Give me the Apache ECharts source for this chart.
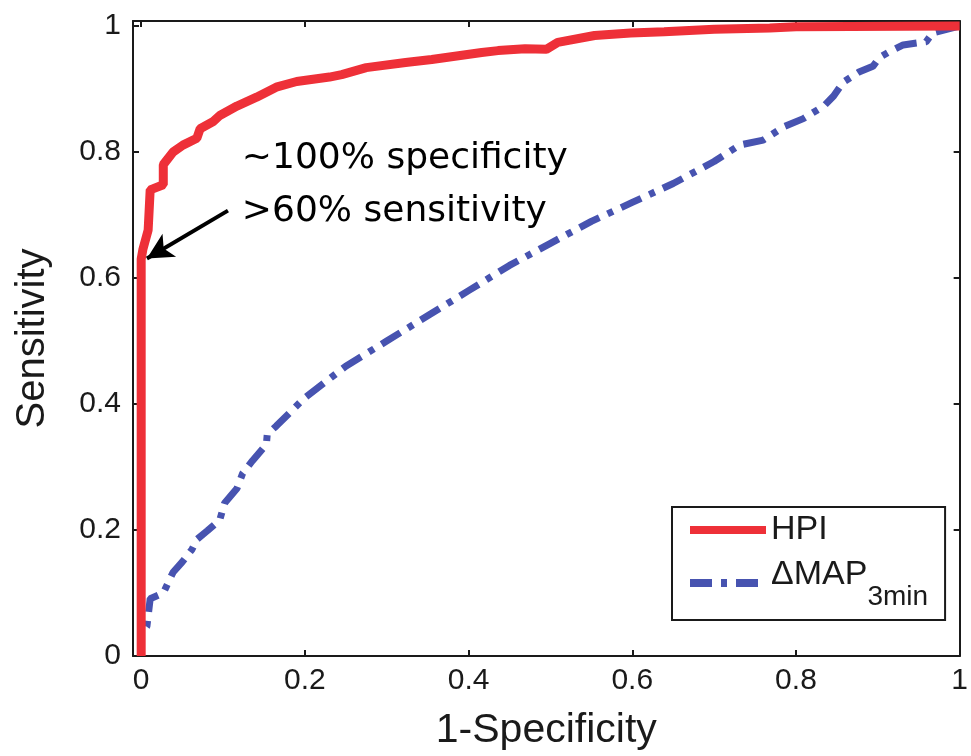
<!DOCTYPE html>
<html>
<head>
<meta charset="utf-8">
<script src="https://cdn.jsdelivr.net/npm/echarts@6/dist/echarts.min.js"></script>
<style>
  html, body { margin: 0; padding: 0; background: #fff; }
  #chart { width: 971px; height: 756px; }
</style>
</head>
<body>
<div id="chart"></div>
<script>
  // HPI roc curve, [1-specificity, sensitivity]
  var hpiFpr = [0, 0, 0.002, 0.0085, 0.011, 0.027, 0.027, 0.039, 0.051, 0.068, 0.072, 0.0875, 0.096, 0.117, 0.141, 0.165, 0.19, 0.23, 0.245, 0.275, 0.323, 0.355, 0.416, 0.436, 0.469, 0.495, 0.509, 0.554, 0.598, 0.639, 0.70, 0.768, 0.80, 1.0];
  var hpiTpr = [0, 0.63, 0.645, 0.676, 0.740, 0.748, 0.78, 0.80, 0.811, 0.822, 0.837, 0.848, 0.858, 0.873, 0.887, 0.903, 0.912, 0.919, 0.923, 0.934, 0.942, 0.947, 0.958, 0.961, 0.964, 0.963, 0.974, 0.985, 0.989, 0.991, 0.995, 0.997, 0.999, 1.0];

  // delta MAP 3min roc curve
  var mapFpr = [0, 0, 0.007, 0.011, 0.027, 0.039, 0.05, 0.062, 0.068, 0.081, 0.096, 0.102, 0.117, 0.124, 0.136, 0.153, 0.154, 0.165, 0.2, 0.25, 0.3, 0.35, 0.4, 0.45, 0.5, 0.55, 0.6, 0.65, 0.7, 0.731, 0.76, 0.785, 0.809, 0.834, 0.846, 0.858, 0.877, 0.894, 0.902, 0.914, 0.931, 0.959, 0.967, 1.0];
  var mapTpr = [0, 0.034, 0.047, 0.091, 0.10, 0.133, 0.149, 0.169, 0.185, 0.199, 0.216, 0.243, 0.266, 0.29, 0.31, 0.336, 0.352, 0.365, 0.41, 0.46, 0.50, 0.54, 0.58, 0.62, 0.655, 0.69, 0.72, 0.75, 0.785, 0.811, 0.819, 0.84, 0.853, 0.873, 0.889, 0.911, 0.927, 0.936, 0.95, 0.959, 0.97, 0.975, 0.989, 1.0];

  var xTicks = [0, 0.2, 0.4, 0.6, 0.8, 1];
  var yTicks = [0, 0.2, 0.4, 0.6, 0.8, 1];
  var seriesNames = ['HPI', 'ΔMAP3min'];

  // arrow: from text to the point on the HPI curve
  var arrowFrom = [0.106, 0.707];
  var arrowTo = [0.007, 0.631];
  var noteLines = ['~100% specificity', '>60% sensitivity'];
  var notePos = [[0.123, 0.79], [0.123, 0.705]];

  function pairs(xs, ys) {
    var out = [];
    for (var i = 0; i < xs.length; i++) out.push([xs[i], ys[i]]);
    return out;
  }
  function fmt(v) { return String(Math.round(v * 10) / 10); }

  var chart = echarts.init(document.getElementById('chart'));
  var font = 'Liberation Sans, Arial, sans-serif';
  var axisLine = { show: true, onZero: false, lineStyle: { color: '#1a1a1a', width: 2 } };
  var tickBase = { show: true, inside: true, length: 6, lineStyle: { color: '#1a1a1a', width: 2 } };
  var xTick = Object.assign({ customValues: xTicks }, tickBase);
  var yTick = Object.assign({ customValues: yTicks }, tickBase);

  var option = {
    animation: false,
    grid: { left: 133, right: 7, top: 21, bottom: 92 },
    legend: {
      orient: 'vertical',
      left: 672,
      top: 507,
      backgroundColor: '#fff',
      borderColor: '#1a1a1a',
      borderWidth: 2,
      padding: [6, 17, 9, 14],
      itemGap: 8,
      itemWidth: 76,
      itemHeight: 16,
      lineStyle: { width: 8 },
      itemStyle: { opacity: 0 },
      data: seriesNames,
      formatter: function (name) {
        if (name === 'HPI') return '{a|HPI}';
        return '{b|ΔMAP}{s|3min}';
      },
      textStyle: {
        rich: {
          a: { fontFamily: font, fontSize: 34, color: '#1a1a1a', lineHeight: 40 },
          b: { fontFamily: font, fontSize: 34, color: '#1a1a1a', lineHeight: 40, padding: [0, 0, 16, 0] },
          s: { fontFamily: font, fontSize: 28, color: '#1a1a1a', lineHeight: 28, padding: [28, 0, 0, 0] }
        }
      }
    },
    xAxis: [{
      type: 'value', min: -0.01, max: 1,
      name: '1-Specificity', nameLocation: 'middle', nameGap: 54,
      nameTextStyle: { fontFamily: font, fontSize: 41, color: '#1a1a1a' },
      axisLine: axisLine, axisTick: xTick, splitLine: { show: false },
      axisLabel: { fontFamily: font, fontSize: 30, color: '#1a1a1a', margin: 10, customValues: xTicks, formatter: fmt }
    }, {
      type: 'value', position: 'top', min: -0.01, max: 1,
      axisLine: axisLine, axisTick: xTick, splitLine: { show: false },
      axisLabel: { show: false }
    }],
    yAxis: [{
      type: 'value', min: 0, max: 1.008,
      name: 'Sensitivity', nameLocation: 'middle', nameGap: 80, nameRotate: 90,
      nameTextStyle: { fontFamily: font, fontSize: 40, color: '#1a1a1a' },
      axisLine: axisLine, axisTick: yTick, splitLine: { show: false },
      axisLabel: { fontFamily: font, fontSize: 30, color: '#1a1a1a', margin: 12, customValues: yTicks, formatter: fmt }
    }, {
      type: 'value', position: 'right', min: 0, max: 1.008,
      axisLine: axisLine, axisTick: yTick, splitLine: { show: false },
      axisLabel: { show: false }
    }],
    series: [{
      name: seriesNames[1],
      type: 'line',
      data: pairs(mapFpr, mapTpr),
      symbol: 'none',
      z: 2,
      lineStyle: { color: '#4753b0', width: 7, type: [22, 9, 6, 9] },
      itemStyle: { color: '#4753b0' }
    }, {
      name: seriesNames[0],
      type: 'line',
      data: pairs(hpiFpr, hpiTpr),
      symbol: 'none',
      z: 3,
      lineStyle: { color: '#ee3038', width: 9 },
      itemStyle: { color: '#ee3038' },
      markLine: {
        silent: true,
        symbol: ['none', 'arrow'],
        symbolSize: [20, 26],
        label: { show: false },
        lineStyle: { color: '#000', width: 4, type: 'solid' },
        data: [[{ coord: arrowFrom }, { coord: arrowTo }]]
      }
    }]
  };
  chart.setOption(option);

  var notes = noteLines.map(function (t, i) {
    var p = chart.convertToPixel({ gridIndex: 0 }, notePos[i]);
    return {
      type: 'text', x: p[0], y: p[1], z: 10,
      style: { text: t, fontFamily: 'DejaVu Sans', fontSize: 36, fill: '#000', verticalAlign: 'middle' }
    };
  });
  chart.setOption({ graphic: notes });
</script>
</body>
</html>
